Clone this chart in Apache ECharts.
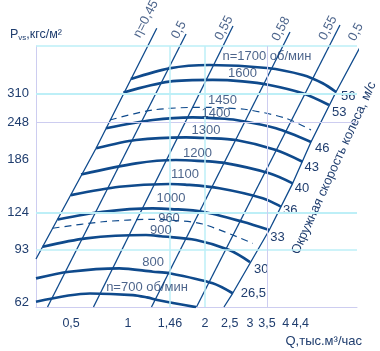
<!DOCTYPE html>
<html>
<head>
<meta charset="utf-8">
<title>Характеристика вентилятора</title>
<script src="https://cdn.jsdelivr.net/npm/echarts/dist/echarts.min.js"></script>
<style>
	html, body { margin: 0; padding: 0; background: #fff; }
	#chart { width: 380px; height: 351px; }
</style>
</head>
<body>
<div id="chart"></div>
<script>
// подписи осей
var qTicks = [0.5, 1, 1.46, 2, 2.5, 3, 3.5, 4, 4.4];
var pTicks = [62, 93, 124, 186, 248, 310];

// кривые давления при n об/мин: [Q тыс.м3/час, P кгс/м2]
var n1700 = [[1.027,347.0],[1.451,376.8],[2.081,386.6],[3.499,377.7],[4.829,357.9],[5.781,335.7],[6.518,313.9]];
var n1600 = [[0.960,312.6],[1.451,339.9],[2.146,344.4],[2.807,340.7],[3.573,331.3],[4.829,310.7],[6.119,283.9]];
var n1450 = [[0.850,252.9],[1.249,273.2],[1.960,278.9],[2.344,277.9],[2.984,273.2],[4.153,256.2],[5.203,234.1]];
var n1400 = [[0.820,237.2],[1.249,252.9],[1.792,258.2],[2.211,256.2],[2.647,252.9],[3.795,237.2],[5.203,213.4]];
var n1300 = [[0.750,203.3],[1.075,216.7],[1.687,221.3],[2.020,220.1],[2.647,216.7],[3.795,200.6],[4.820,183.3]];
var n1200 = [[0.655,166.1],[1.075,181.0],[1.541,185.7],[1.871,184.6],[2.348,181.9],[3.573,167.6],[4.411,155.1]];
var n1100 = [[0.598,141.7],[0.925,151.1],[1.451,154.3],[1.672,153.6],[2.278,149.3],[3.367,138.2],[3.970,129.5]];
var n1000 = [[0.531,117.3],[0.796,124.6],[1.249,127.9],[1.474,127.2],[1.960,124.6],[2.812,115.3],[3.573,108.2]];
var n960  = [[0.507,109.7],[0.796,115.3],[1.249,117.5],[1.447,116.9],[1.960,113.3],[3.077,97.6]];
var n900  = [[0.464,95.1],[0.685,101.5],[1.176,104.1],[1.346,103.1],[1.846,100.2],[2.492,92.7],[3.003,84.5]];
var n800  = [[0.4364,74.5],[0.589,78.4],[0.925,80.5],[1.253,78.4],[1.451,77.5],[2.146,71.7],[2.569,66.4]];
var n700  = [[0.4364,62.2],[0.710,66.3],[1.046,65.5],[1.187,64.3],[1.334,62.8],[1.846,59.7]];

var speedCurves = [n1700, n1600, n1450, n1400, n1300, n1200, n1100, n1000, n960, n900, n800, n700];
var speedNames  = ['n=1700 об/мин','1600','1450','1400','1300','1200','1100','1000','960','900','800','n=700 об/мин'];
var tipSpeeds   = ['56','53','','46','43','40','36','33','','30','26,5',''];  // окружная скорость, м/с

// линии КПД
var eta045  = [[1.296,513.2],[0.750,203.3],[0.4364,86.5]];
var eta05a  = [[1.687,491.1],[0.4842,59.73]];
var eta055a = [[2.576,522.3],[0.7327,59.73]];
var eta058  = [[4.306,498.7],[1.236,59.73]];
var eta055b = [[6.757,526.3],[1.854,59.73]];
var eta05b  = [[8.934,518.3],[6.518,313.9],[5.203,213.4],[4.411,155.1],[3.573,108.2],[2.569,66.4],[2.375,59.73]];
var etaLines = [eta045, eta05a, eta055a, eta058, eta055b, eta05b];
var etaNames = ['η=0,45','0,5','0,55','0,58','0,55','0,5'];

var ink = '#0f4a8c';
var txt = '#1f3d6e';
var cyan = '#bdeff7';
var lilac = '#cdcdf0';
var font = 'Liberation Sans, Arial, sans-serif';

var dashed = { '1450': true, '960': true };
var tagLift = [12, 8.4, 7.8, 5.3, 8, 7.8, 10.6, 11, 2, 6.3, 9.7, 10.5];
var tipShift = [[2,4],[0,7],[0,0],[1,6],[-1,6],[-1,5],[-1,4],[-2,7],[0,0],[1,7],[5,0],[0,0]];
// сдвиг подписи КПД вдоль линии и поперёк неё
var etaShift = [[3.4,-13.8],[0.4,-8.1],[-5.9,-7.1],[-1.4,-9.4],[-8.1,-9.3],[-11.3,-11.1]];
// подписи по оси Q, стоящие на рисунке не точно на делении
var qNudge = { '0.5': 40, '4': 8, '4.4': 16 };

var series = [];

// сетка
series.push({
	type: 'line', data: [], silent: true, z: 1,
	markLine: {
		silent: true, symbol: ['none', 'none'], label: { show: false }, animation: false,
		data: [
			{ yAxis: 447.6, lineStyle: { color: cyan, width: 1.5, type: 'solid' } },
			{ yAxis: 310, lineStyle: { color: cyan, width: 2, type: 'solid' } },
			{ yAxis: 248, lineStyle: { color: lilac, width: 1, type: 'solid' } },
			{ yAxis: 124, lineStyle: { color: cyan, width: 2, type: 'solid' } },
			{ yAxis: 93, lineStyle: { color: cyan, width: 1.5, type: 'solid' } },
			{ xAxis: 1.46, lineStyle: { color: cyan, width: 1.5, type: 'solid' } },
			{ xAxis: 2, lineStyle: { color: cyan, width: 1.5, type: 'solid' } },
			{ xAxis: 3.5, lineStyle: { color: lilac, width: 1, type: 'solid' } }
		]
	}
});

etaLines.forEach(function (d) {
	series.push({
		type: 'line', data: d, showSymbol: false, clip: false, silent: true, z: 3,
		lineStyle: { color: ink, width: 1.3 }
	});
});

speedCurves.forEach(function (d, i) {
	var isDash = dashed[speedNames[i]];
	var s = {
		type: 'line', data: d, showSymbol: false, smooth: 0.3, clip: true, silent: true, z: 4,
		lineStyle: isDash ? { color: ink, width: 1.2, type: [7, 5] } : { color: ink, width: 2.7 }
	};
	if (tipSpeeds[i]) {
		s.endLabel = {
			show: true, formatter: tipSpeeds[i], distance: 3,
			offset: tipShift[i], color: txt, fontSize: 13, fontFamily: font
		};
	}
	series.push(s);
});

// подписи частоты вращения
series.push({
	type: 'scatter', symbolSize: 0, silent: true, z: 6,
	data: speedCurves.map(function (d, i) {
		return {
			value: d[3],
			label: {
				show: true, position: 'inside', formatter: speedNames[i],
				offset: [0, -tagLift[i]], color: txt, fontSize: 13, fontFamily: font
			}
		};
	})
});

// подписи КПД
series.push({
	type: 'scatter', symbolSize: 0, silent: true, z: 6, clip: false,
	data: etaLines.map(function (d, i) {
		return {
			value: d[0],
			label: {
				show: true, position: 'inside', formatter: etaNames[i], rotate: 63,
				offset: etaShift[i], color: txt, fontSize: 13, fontFamily: font
			}
		};
	})
});

var chart = echarts.init(document.getElementById('chart'), null, { renderer: 'canvas' });
chart.setOption({
	animation: false,
	backgroundColor: '#fff',
	grid: { left: 36, right: 23, top: 46, bottom: 44 },
	xAxis: {
		type: 'log', logBase: 10, min: 0.4364, max: 7.877,
		name: 'Q,тыс.м³/час', nameLocation: 'end', nameGap: 5,
		nameTextStyle: { color: txt, fontSize: 13, fontFamily: font, align: 'right', verticalAlign: 'top', padding: [28, 0, 0, 0] },
		axisLine: { show: true, lineStyle: { color: lilac, width: 1 } },
		axisTick: { show: false },
		splitLine: { show: false },
		axisLabel: {
			customValues: qTicks, margin: 10, color: txt, fontSize: 12.5, fontFamily: font, hideOverlap: false,
			formatter: function (v) {
				var s = String(v).replace('.', ',');
				return qNudge[String(v)] ? '{n' + qNudge[String(v)] + '|' + s + '}' : s;
			},
			rich: {
				n40: { padding: [0, 0, 0, 40], color: txt, fontSize: 12.5, fontFamily: font },
				n8: { padding: [0, 0, 0, 8], color: txt, fontSize: 12.5, fontFamily: font },
				n16: { padding: [0, 0, 0, 16], color: txt, fontSize: 12.5, fontFamily: font }
			}
		}
	},
	yAxis: {
		type: 'log', logBase: 10, min: 59.73, max: 447.6,
		name: '{p|P}{s|vs}{p|,кгс/м²}', nameLocation: 'end', nameGap: 4,
		nameTextStyle: {
			color: txt, fontFamily: font, align: 'center', verticalAlign: 'bottom',
			rich: { p: { fontSize: 12.5, color: txt, fontFamily: font }, s: { fontSize: 8, color: txt, fontFamily: font, verticalAlign: 'bottom', padding: [6, 0, 0, 0] } }
		},
		axisLine: { show: true, lineStyle: { color: lilac, width: 1 } },
		axisTick: { show: false },
		splitLine: { show: false },
		axisLabel: { customValues: pTicks, margin: 7, color: txt, fontSize: 13, fontFamily: font }
	},
	graphic: [{
		type: 'text', x: 334, y: 168, rotation: 1.145, silent: true,
		style: { text: 'Окружная скорость колеса, м/с', fill: txt, fontSize: 13, fontFamily: font, align: 'center', verticalAlign: 'middle' }
	}],
	series: series
});
</script>
</body>
</html>
